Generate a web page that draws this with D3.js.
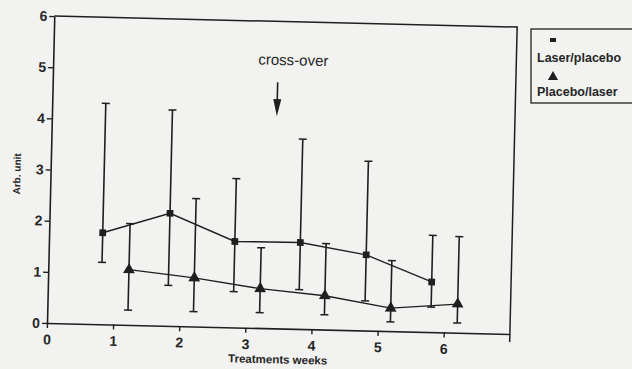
<!DOCTYPE html>
<html lang="en">
  <head>
    <meta charset="UTF-8" />
    <script src="https://d3js.org/d3.v7.min.js"></script>
    <style>
      body { margin: 0; background: #f2f2f0; }
      text { font-family: "Liberation Sans", Arial, sans-serif; fill: #262626; }
    </style>
  </head>

  <body>
    <script>
      var width = 632,
        height = 369;

      // weeks (x), means and error bar ends
      var laserX = [0.81, 1.82, 2.81, 3.8, 4.8, 5.8];
      var laserY = [1.79, 2.2, 1.68, 1.69, 1.48, 0.98];
      var laserHi = [4.32, 4.22, 2.91, 3.71, 3.31, 1.89];
      var laserLo = [1.21, 0.79, 0.7, 0.77, 0.58, 0.49];

      var placeboX = [1.22, 2.21, 3.21, 4.19, 5.19, 6.2];
      var placeboY = [1.08, 0.95, 0.77, 0.66, 0.45, 0.56];
      var placeboHi = [1.98, 2.5, 1.57, 1.68, 1.38, 1.88];
      var placeboLo = [0.29, 0.29, 0.3, 0.29, 0.18, 0.19];

      var xTicks = [0, 1, 2, 3, 4, 5, 6];
      var yTicks = [0, 1, 2, 3, 4, 5, 6];
      var crossOver = 3.4;

      var svg = d3
        .select("body")
        .append("svg")
        .attr("width", width)
        .attr("height", height);

      var ink = "#1f1f1f";

      // the scanned figure sits slightly tilted
      var plot = svg
        .append("g")
        .attr("transform", "translate(47,323) rotate(1.36)");

      var x = d3.scaleLinear().domain([0, 7]).range([0, 463]);
      var y = d3.scaleLinear().domain([0, 6]).range([0, -307]);

      var xAxis = plot
        .append("g")
        .call(d3.axisBottom(x).tickValues(xTicks).tickSize(5).tickSizeOuter(0).tickFormat(d3.format("d")));
      var yAxis = plot
        .append("g")
        .call(d3.axisLeft(y).tickValues(yTicks).tickSize(5).tickSizeOuter(0).tickFormat(d3.format("d")));

      [xAxis, yAxis].forEach(function (a) {
        a.select(".domain").attr("stroke", ink).attr("stroke-width", 1.6);
        a.selectAll(".tick line").attr("stroke", ink).attr("stroke-width", 1.4);
        a.selectAll(".tick text")
          .style("font-size", "14px")
          .style("font-weight", "bold")
          .attr("fill", "#333");
      });
      xAxis.selectAll(".tick text").attr("dy", "0.95em");
      yAxis.selectAll(".tick text").attr("x", -7);

      // frame top and right
      plot
        .append("path")
        .attr("d", "M" + x(0) + "," + y(6) + "H" + x(7) + "V" + (y(0) + 8))
        .attr("fill", "none")
        .attr("stroke", ink)
        .attr("stroke-width", 1.5);

      // axis titles
      plot
        .append("text")
        .attr("x", x(3.5))
        .attr("y", 35)
        .attr("text-anchor", "middle")
        .style("font-size", "11.5px")
        .style("font-weight", "bold")
        .text("Treatments weeks");

      plot
        .append("text")
        .attr("transform", "translate(-30," + y(2.9) + ") rotate(-90)")
        .attr("text-anchor", "middle")
        .style("font-size", "10px")
        .style("font-weight", "bold")
        .text("Arb. unit");

      // cross-over marker
      plot
        .append("text")
        .attr("x", x(crossOver + 0.23))
        .attr("y", y(5.15))
        .attr("text-anchor", "middle")
        .style("font-size", "15px")
        .text("cross-over");
      plot
        .append("line")
        .attr("x1", x(crossOver))
        .attr("x2", x(crossOver))
        .attr("y1", y(4.81))
        .attr("y2", y(4.4))
        .attr("stroke", ink)
        .attr("stroke-width", 1.6);
      plot
        .append("path")
        .attr("d", "M-4,0L4,0L0,17Z")
        .attr("transform", "translate(" + x(crossOver) + "," + y(4.48) + ")")
        .attr("fill", ink);

      function series(xs, ys, hi, lo, symbolType, size) {
        var pts = xs.map(function (d, i) {
          return { x: d, y: ys[i], hi: hi[i], lo: lo[i] };
        });
        var g = plot.append("g");
        g.selectAll(".bar")
          .data(pts)
          .enter()
          .append("line")
          .attr("x1", function (d) { return x(d.x); })
          .attr("x2", function (d) { return x(d.x); })
          .attr("y1", function (d) { return y(d.hi); })
          .attr("y2", function (d) { return y(d.lo); })
          .attr("stroke", ink)
          .attr("stroke-width", 1.6);
        ["hi", "lo"].forEach(function (k) {
          g.selectAll(".cap" + k)
            .data(pts)
            .enter()
            .append("line")
            .attr("x1", function (d) { return x(d.x) - 4; })
            .attr("x2", function (d) { return x(d.x) + 4; })
            .attr("y1", function (d) { return y(d[k]); })
            .attr("y2", function (d) { return y(d[k]); })
            .attr("stroke", ink)
            .attr("stroke-width", 1.5);
        });
        g.append("path")
          .datum(pts)
          .attr("fill", "none")
          .attr("stroke", ink)
          .attr("stroke-width", 1.4)
          .attr(
            "d",
            d3.line()
              .x(function (d) { return x(d.x); })
              .y(function (d) { return y(d.y); })
          );
        g.selectAll(".mk")
          .data(pts)
          .enter()
          .append("path")
          .attr("d", d3.symbol().type(symbolType).size(size)())
          .attr("transform", function (d) {
            return "translate(" + x(d.x) + "," + y(d.y) + ")";
          })
          .attr("fill", ink);
      }

      series(laserX, laserY, laserHi, laserLo, d3.symbolSquare, 45);
      series(placeboX, placeboY, placeboHi, placeboLo, d3.symbolTriangle, 60);

      // legend
      var lg = svg.append("g");
      lg.append("rect")
        .attr("x", 531)
        .attr("y", 29)
        .attr("width", 110)
        .attr("height", 74)
        .attr("fill", "none")
        .attr("stroke", ink)
        .attr("stroke-width", 1.3);
      lg.append("rect")
        .attr("x", 550)
        .attr("y", 38)
        .attr("width", 6)
        .attr("height", 4)
        .attr("fill", ink);
      lg.append("text")
        .attr("x", 537)
        .attr("y", 62)
        .style("font-size", "12.5px")
        .style("font-weight", "bold")
        .text("Laser/placebo");
      lg.append("path")
        .attr("d", d3.symbol().type(d3.symbolTriangle).size(45)())
        .attr("transform", "translate(553,77)")
        .attr("fill", ink);
      lg.append("text")
        .attr("x", 537)
        .attr("y", 96)
        .style("font-size", "12.5px")
        .style("font-weight", "bold")
        .text("Placebo/laser");
    </script>
  </body>
</html>
